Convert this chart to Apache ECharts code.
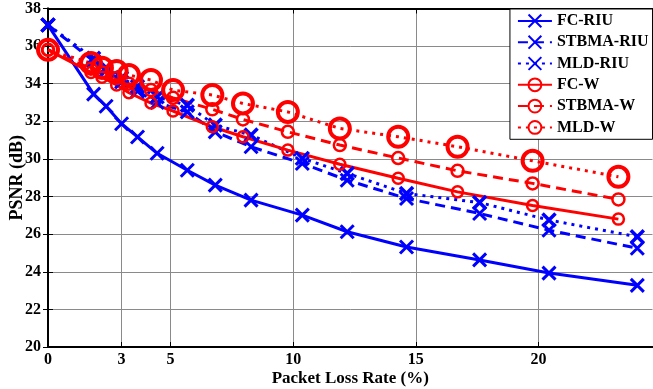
<!DOCTYPE html>
<html><head><meta charset="utf-8">
<script src="https://cdn.jsdelivr.net/npm/echarts@6/dist/echarts.min.js"></script>
<style>html,body{margin:0;padding:0;background:#fff}#c{width:653px;height:389px}</style>
</head><body><div id="c"></div>
<script>
const xTicks = [0, 3, 5, 10, 15, 20];
const yTicks = [20, 22, 24, 26, 28, 30, 32, 34, 36, 38];
const xRIU = [0, 1.86, 2.37, 3.0, 3.65, 4.45, 5.68, 6.82, 8.28, 10.37, 12.2, 14.62, 17.6, 20.43, 24.03];
const xW   = [0, 1.75, 2.2, 2.8, 3.3, 4.2, 5.1, 6.7, 7.95, 9.78, 11.9, 14.28, 16.7, 19.76, 23.26];
const fcRIU    = [37.12, 33.45, 32.8, 31.87, 31.17, 30.3, 29.4, 28.61, 27.81, 27.01, 26.13, 25.32, 24.63, 23.93, 23.28];
const stbmaRIU = [37.12, 35.2, 34.7, 34.1, 33.6, 33.0, 32.5, 31.44, 30.65, 29.76, 28.87, 27.9, 27.1, 26.21, 25.25];
const mldRIU   = [37.12, 35.35, 34.85, 34.3, 33.85, 33.3, 32.85, 31.8, 31.27, 30.03, 29.23, 28.16, 27.68, 26.75, 25.86];
const fcW      = [35.8, 34.6, 34.35, 33.93, 33.52, 32.97, 32.55, 31.71, 31.18, 30.47, 29.72, 28.97, 28.25, 27.52, 26.8];
const stbmaW   = [35.8, 34.8, 34.6, 34.3, 34.0, 33.66, 33.25, 32.64, 32.1, 31.44, 30.74, 30.05, 29.37, 28.7, 27.85];
const mldW     = [35.8, 35.1, 34.85, 34.67, 34.46, 34.2, 33.66, 33.4, 32.95, 32.5, 31.62, 31.18, 30.65, 29.9, 29.05];

const FONT = 'Liberation Serif';
const BLUE = '#0000ff', RED = '#ff0000';
const XSYM = 'path://M0,0L10,10M0,10L10,0';
function pairs(xs, ys){ return xs.map((x,i)=>[x, ys[i]]); }
function mk(name, xs, ys, color, type, symbol, size, bw){
  return {
    name, type:'line', data: pairs(xs, ys), showAllSymbol:true,
    symbol, symbolSize:size,
    lineStyle:{color, width:3, type},
    itemStyle:{color:'none', borderColor:color, borderWidth:bw},
    emphasis:{disabled:true}, animation:false, z:3
  };
}
const chart = echarts.init(document.getElementById('c'), null, {renderer:'canvas'});
const axisLbl = {fontFamily:FONT, fontWeight:'bold', fontSize:16, color:'#000'};
chart.setOption({
  animation:false,
  grid:{left:48, top:8.5, right:0.5, bottom:42, containLabel:false, outerBoundsMode:'none'},
  legend:{
    right:0.5, top:9, orient:'vertical', itemWidth:34, itemHeight:16, itemGap:3.5,
    backgroundColor:'#fff', borderColor:'#000', borderWidth:1, padding:[3,4,3,7],
    textStyle:{fontFamily:FONT, fontWeight:'bold', fontSize:16, color:'#000'},
    data:['FC-RIU','STBMA-RIU','MLD-RIU','FC-W','STBMA-W','MLD-W']
  },
  xAxis:[{
    type:'value', min:0, max:24.65,
    name:'Packet Loss Rate (%)', nameLocation:'middle', nameGap:23, nameMoveOverlap:false,
    nameTextStyle:{fontFamily:FONT, fontWeight:'bold', fontSize:17, color:'#000'},
    axisLine:{lineStyle:{color:'#000', width:2}},
    axisTick:{inside:true, length:5, customValues:xTicks, lineStyle:{color:'#000'}},
    axisLabel:Object.assign({customValues:xTicks, margin:5}, axisLbl),
    splitLine:{show:true, lineStyle:{color:'#8a8a8a', width:1}}
  },{
    type:'value', min:0, max:24.65, position:'top',
    axisLine:{lineStyle:{color:'#000', width:2}},
    axisTick:{inside:true, length:5, customValues:xTicks, lineStyle:{color:'#000'}},
    axisLabel:{show:false}, splitLine:{show:false}
  }],
  yAxis:[{
    type:'value', min:20, max:38, interval:2,
    name:'PSNR (dB)', nameLocation:'middle', nameGap:22, nameMoveOverlap:false,
    nameTextStyle:{fontFamily:FONT, fontWeight:'bold', fontSize:18, color:'#000'},
    axisLine:{show:true, lineStyle:{color:'#000', width:2}},
    axisTick:{show:true, inside:true, length:5, lineStyle:{color:'#000'}},
    axisLabel:Object.assign({margin:7}, axisLbl),
    splitLine:{show:true, lineStyle:{color:'#8a8a8a', width:1}}
  },{
    type:'value', min:20, max:38, interval:2, position:'right',
    axisLine:{show:true, lineStyle:{color:'#000', width:2}},
    axisTick:{show:true, inside:true, length:5, lineStyle:{color:'#000'}},
    axisLabel:{show:false}, splitLine:{show:false}
  }],
  series:[
    mk('FC-RIU', xRIU, fcRIU, BLUE, 'solid', XSYM, 13, 3),
    mk('STBMA-RIU', xRIU, stbmaRIU, BLUE, [10,6], XSYM, 13, 3),
    mk('MLD-RIU', xRIU, mldRIU, BLUE, [3,5], XSYM, 13, 3.5),
    mk('FC-W', xW, fcW, RED, 'solid', 'circle', 11, 2.5),
    mk('STBMA-W', xW, stbmaW, RED, [10,6], 'circle', 12, 2.5),
    mk('MLD-W', xW, mldW, RED, [3,5], 'circle', 20, 4)
  ]
});
</script></body></html>
